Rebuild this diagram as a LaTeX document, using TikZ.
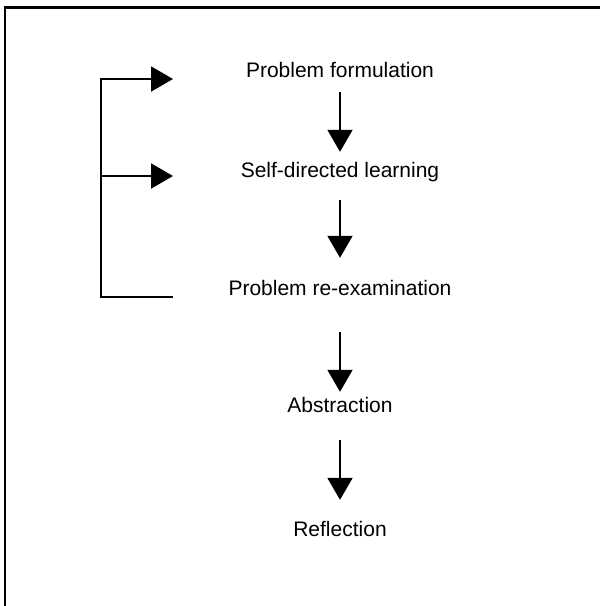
\documentclass[tikz,border=0pt]{standalone}
\usepackage{fontspec}
\setmainfont{Liberation Sans}
\usetikzlibrary{arrows.meta}

\begin{document}
\begin{tikzpicture}[x=1pt,y=-1pt,
  stage/.style={anchor=base, inner sep=0pt, text height=15pt, text depth=4.5pt,
    font=\fontsize{21}{25}\selectfont},
  flow/.style={-{Triangle[length=22pt,width=25pt]}, line width=2pt}]
  \useasboundingbox (0,0) rectangle (600,606);
  % frame
  \draw[line width=2.5pt] (5,606) -- (5,7.5) -- (600,7.5);
  % stages
  \node[stage] (form) at (340,77) {Problem formulation};
  \node[stage] (self) at (340,177.7) {Self-directed learning};
  \node[stage] (reex) at (340,295.7) {Problem re-examination};
  \node[stage] (abst) at (340,412.3) {Abstraction};
  \node[stage] (refl) at (340,536.7) {Reflection};
  \draw[flow, shorten <=10.5pt, shorten >=10.7pt] (form.south) -- (self.north);
  \draw[flow, shorten <=17.8pt, shorten >=22.7pt] (self.south) -- (reex.north);
  \draw[flow, shorten <=31.8pt, shorten >=5.3pt] (reex.south) -- (abst.north);
  \draw[flow, shorten <=23.2pt, shorten >=21.7pt] (abst.south) -- (refl.north);
  % feedback bracket
  \coordinate (intop) at (173,79);
  \coordinate (inmid) at (173,176);
  \coordinate (outbot) at (173,297);
  \coordinate (spine) at (101,176);
  \draw[flow] (outbot) -- (outbot -| spine) |- (intop);
  \draw[flow] (spine) -- (inmid);
\end{tikzpicture}
\end{document}
